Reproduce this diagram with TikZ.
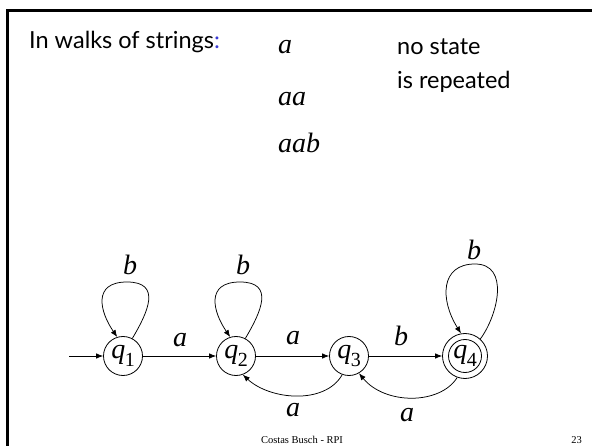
\documentclass[tikz,border=0pt]{standalone}
\usepackage{fontspec}
\setmainfont{Liberation Serif}
\newfontfamily\slidesans{Lato}
\usetikzlibrary{arrows.meta}
\definecolor{colonblue}{RGB}{60,60,215}
\newcommand{\stq}[1]{\textit{q}\kern-0.5pt\raisebox{-0.30em}{\fontsize{20pt}{20pt}\selectfont #1}}
\begin{document}
\begin{tikzpicture}[x=1pt,y=-1pt,
  stnode/.style={circle, draw, line width=0.8pt, minimum size=39pt, inner sep=0pt,
    font=\fontsize{28pt}{28pt}\selectfont},
  outring/.style={circle, draw, line width=0.8pt, minimum size=45pt, inner sep=0pt},
  trans/.style={-{Latex[length=7pt,width=5.5pt]}, line width=0.75pt},
  lbl/.style={inner sep=0pt, font=\fontsize{28pt}{28pt}\selectfont\itshape},
  sanstxt/.style={inner sep=0pt, anchor=base west, font=\slidesans\fontsize{23.5pt}{28pt}\selectfont},
  strtxt/.style={inner sep=0pt, anchor=base west, font=\fontsize{28pt}{30pt}\selectfont\itshape},
  foot/.style={inner sep=0pt, anchor=base, font=\fontsize{10.5pt}{12pt}\selectfont}]
\useasboundingbox (0,0) rectangle (592,446);
\fill[white] (0,0) rectangle (592,446);
% frame
\draw[line width=2.6pt] (7.3,446) -- (7.3,10.5) -- (592,10.5);
% texts
\node[sanstxt] (title) at (29,49) {In walks of strings\textcolor{colonblue}{:}};
\node[strtxt] (s1) at (278,54) {a};
\node[strtxt] (s2) at (278,106) {aa};
\node[strtxt] (s3) at (278,153) {aab};
\node[sanstxt] (n1) at (397,55) {no state};
\node[sanstxt] (n2) at (397,89) {is repeated};
% states
\node[stnode] (q1) at (123,356) {\stq{1}};
\node[stnode] (q2) at (236,356) {\stq{2}};
\node[stnode] (q3) at (349,356) {\stq{3}};
\node[stnode, minimum size=33pt] (q4) at (465,356) {\stq{4}};
\node[outring] (q4o) at (465,356) {};
\coordinate (start) at (69,356);
% edges
\draw[trans] (start) -- (q1);
\draw[trans] (q1) -- (q2);
\draw[trans] (q2) -- (q3);
\draw[trans] (q3) -- (q4o);
\draw[trans] (q3.250) .. controls (325,405) and (270,400) .. (q2.290);
\draw[trans] (q4o.250) .. controls (440,405) and (385,405) .. (q3.300);
% loops
\draw[trans] (q1.62) .. controls (148,312) and (162,282) .. (127,282) .. controls (92,282) and (100,312) .. (q1.107);
\draw[trans] (q2.62) .. controls (261,312) and (275,282) .. (240,282) .. controls (205,282) and (213,312) .. (q2.107);
\draw[trans] (q4o.48) .. controls (498,315) and (510,264) .. (475,264) .. controls (440,264) and (440,300) .. (q4o.100);
% labels
\node[lbl] (l12) at (180,340) {a};
\node[lbl] (l23) at (293,338) {a};
\node[lbl] (l34) at (401,336) {b};
\node[lbl] (l11) at (130,265) {b};
\node[lbl] (l22) at (243,265) {b};
\node[lbl] (l44) at (474,250) {b};
\node[lbl] (l32) at (293,410) {a};
\node[lbl] (l43) at (407,415) {a};
% footer
\node[foot] (f1) at (302,443.5) {Costas Busch - RPI};
\node[foot, anchor=base east] (f2) at (582,443.5) {23};
\end{tikzpicture}
\end{document}
